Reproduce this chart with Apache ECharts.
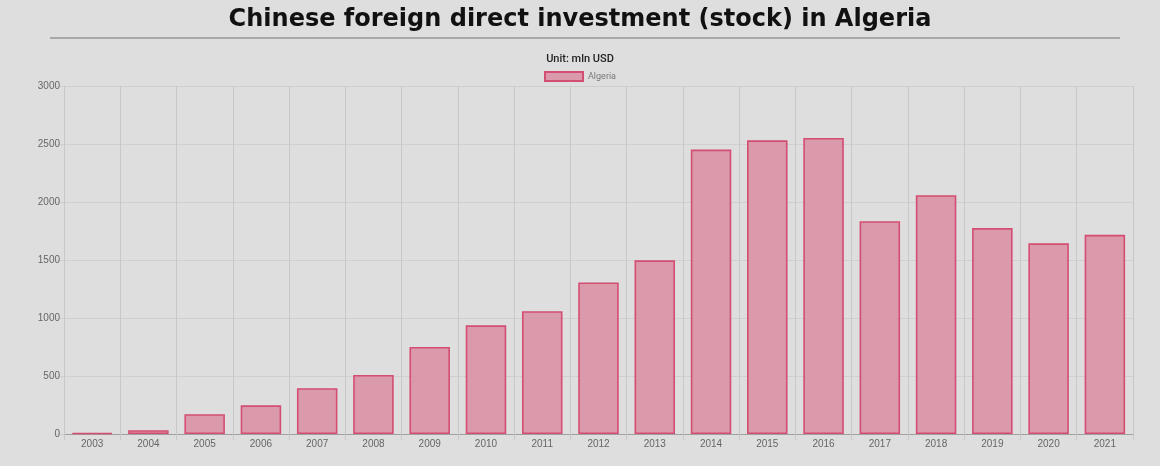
<!DOCTYPE html>
<html>
<head>
<meta charset="utf-8">
<script src="https://cdn.jsdelivr.net/npm/echarts@6/dist/echarts.min.js"></script>
<style>
  html, body { margin: 0; padding: 0; background: #dedede; }
  #chart { width: 1160px; height: 466px; }
</style>
</head>
<body>
<div id="chart"></div>
<script>
// data (mln USD)
const years = ['2003', '2004', '2005', '2006', '2007', '2008', '2009', '2010', '2011', '2012',
  '2013', '2014', '2015', '2016', '2017', '2018', '2019', '2020', '2021']
const algeria = [8, 33, 171, 247, 395, 509, 751, 937, 1059, 1306,
  1497, 2452, 2532, 2552, 1834, 2059, 1775, 1644, 1717]
const yTicks = [0, 500, 1000, 1500, 2000, 2500, 3000]

const chart = echarts.init(document.getElementById('chart'))

chart.setOption({
  backgroundColor: '#dedede',
  animation: false,
  title: [
    {
      text: 'Chinese foreign direct investment (stock) in Algeria',
      left: 'center',
      top: 3,
      textStyle: { fontFamily: 'DejaVu Sans', fontWeight: 'bold', fontSize: 24, color: '#111' }
    },
    {
      text: 'Unit: mln USD',
      left: 'center',
      top: 49,
      textStyle: { fontFamily: 'Roboto', fontWeight: 500, fontSize: 11, color: '#222' }
    }
  ],
  graphic: [
    {
      type: 'line',
      shape: { x1: 50, y1: 38, x2: 1120, y2: 38 },
      style: { stroke: '#a8a8a8', lineWidth: 2 }
    }
  ],
  legend: {
    top: 66,
    left: 'center',
    icon: 'rect',
    itemWidth: 38,
    itemHeight: 9,
    itemGap: 6,
    textStyle: { fontFamily: 'Roboto', fontSize: 9, color: '#777' },
    data: ['Algeria']
  },
  grid: { left: 64, right: 27, top: 86, bottom: 32 },
  xAxis: {
    type: 'category',
    data: years,
    boundaryGap: true,
    axisLine: { lineStyle: { color: '#a0a0a0' } },
    axisTick: { show: true, length: 6, alignWithLabel: false, lineStyle: { color: '#c8c8c8' } },
    axisLabel: { color: '#666', fontFamily: 'Liberation Sans', fontSize: 10, margin: 5 },
    splitLine: { show: true, lineStyle: { color: '#c8c8c8' } }
  },
  yAxis: {
    type: 'value',
    min: 0,
    max: 3000,
    interval: 500,
    axisLine: { show: false },
    axisTick: { show: true, length: 8, lineStyle: { color: '#cfcfcf' } },
    axisLabel: {
      color: '#666', fontFamily: 'Liberation Sans', fontSize: 10, margin: 4,
      formatter: v => (yTicks.includes(v) ? String(v) : '')
    },
    splitLine: { lineStyle: { color: '#cfcfcf' } }
  },
  series: [
    {
      name: 'Algeria',
      type: 'bar',
      data: algeria,
      barCategoryGap: '28%',
      itemStyle: {
        color: 'rgba(218, 150, 168, 0.95)',
        borderColor: '#d44d72',
        borderWidth: 1.6
      }
    }
  ]
})
</script>
</body>
</html>
